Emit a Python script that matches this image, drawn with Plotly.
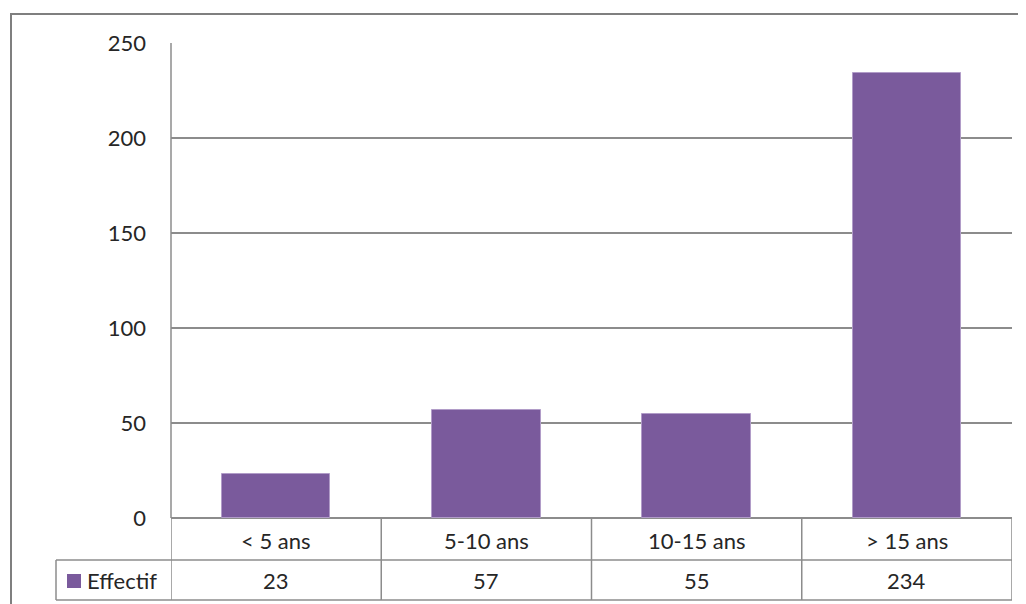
import plotly.graph_objects as go

categories = ["< 5 ans", "5-10 ans", "10-15 ans", "> 15 ans"]
values = [23, 57, 55, 234]
series_name = "Effectif"
y_ticks = [0, 50, 100, 150, 200, 250]

OFF = 8  # default page body margin
W, H = 1026 - OFF, 604 - OFF
L, T = 171 - OFF, 43 - OFF
R = W - (1012 - OFF)
B = H - (518 - OFF)
PW, PH = W - L - R, H - T - B

def px(x):
    return (x - OFF - L) / PW

def py(y):
    return (H - B - (y - OFF)) / PH

BAR = "#7a5a9c"
LINE = "#8c8c8c"
FONT = dict(family="Lato, Open Sans, sans-serif", size=22, color="#262626")

fig = go.Figure()
fig.add_trace(go.Bar(
    x=list(range(len(categories))), y=values, width=0.515,
    marker=dict(color=BAR, line=dict(color="#b19cc8", width=1)),
    name=series_name, showlegend=False, hoverinfo="skip",
))

shapes = []
line = dict(color=LINE, width=1.5)
n = len(categories)
for yy in (560, 600):
    shapes.append(dict(type="line", xref="paper", yref="paper",
                       x0=px(56), x1=1, y0=py(yy), y1=py(yy), line=line))
for i in range(n + 1):
    shapes.append(dict(type="line", xref="x", yref="paper",
                       x0=i - 0.5, x1=i - 0.5, y0=0, y1=py(600), line=line))
shapes.append(dict(type="line", xref="paper", yref="paper",
                   x0=px(56), x1=px(56), y0=py(560), y1=py(600), line=line))
shapes.append(dict(type="line", xref="paper", yref="paper",
                   x0=0, x1=0, y0=0, y1=1, line=line))
shapes.append(dict(type="rect", xref="paper", yref="paper",
                   x0=px(67), x1=px(81), y0=py(588), y1=py(574),
                   fillcolor=BAR, line=dict(width=0)))
shapes.append(dict(type="line", xref="paper", yref="paper",
                   x0=px(10), x1=px(1026), y0=py(14), y1=py(14),
                   line=dict(color="#7f7f7f", width=2)))
shapes.append(dict(type="line", xref="paper", yref="paper",
                   x0=px(11), x1=px(11), y0=py(14), y1=py(604),
                   line=dict(color="#7f7f7f", width=2)))

annotations = []
for i, (c, v) in enumerate(zip(categories, values)):
    annotations.append(dict(x=i, y=py(540), xref="x", yref="paper", text=c,
                            showarrow=False, font=FONT, xanchor="center", yanchor="middle"))
    annotations.append(dict(x=i, y=py(580), xref="x", yref="paper", text=str(v),
                            showarrow=False, font=FONT, xanchor="center", yanchor="middle"))
annotations.append(dict(x=px(85), y=py(580), xref="paper", yref="paper", text=series_name,
                        showarrow=False, font=FONT, xanchor="left", yanchor="middle"))

fig.update_layout(
    width=W, height=H,
    margin=dict(l=L, r=R, t=T, b=B, pad=0),
    paper_bgcolor="white", plot_bgcolor="white",
    font=FONT,
    xaxis=dict(range=[-0.5, n - 0.5], showticklabels=False, showgrid=False,
               zeroline=False, showline=False, fixedrange=True),
    yaxis=dict(range=[0, 250], tickvals=y_ticks, showgrid=True, gridcolor=LINE,
               gridwidth=1.5, zeroline=True, zerolinecolor=LINE, zerolinewidth=1.5,
               showline=False, ticks="", ticklabelstandoff=24, tickfont=FONT),
    shapes=shapes, annotations=annotations,
    showlegend=False, bargap=0,
)

fig.write_html("out.html")
